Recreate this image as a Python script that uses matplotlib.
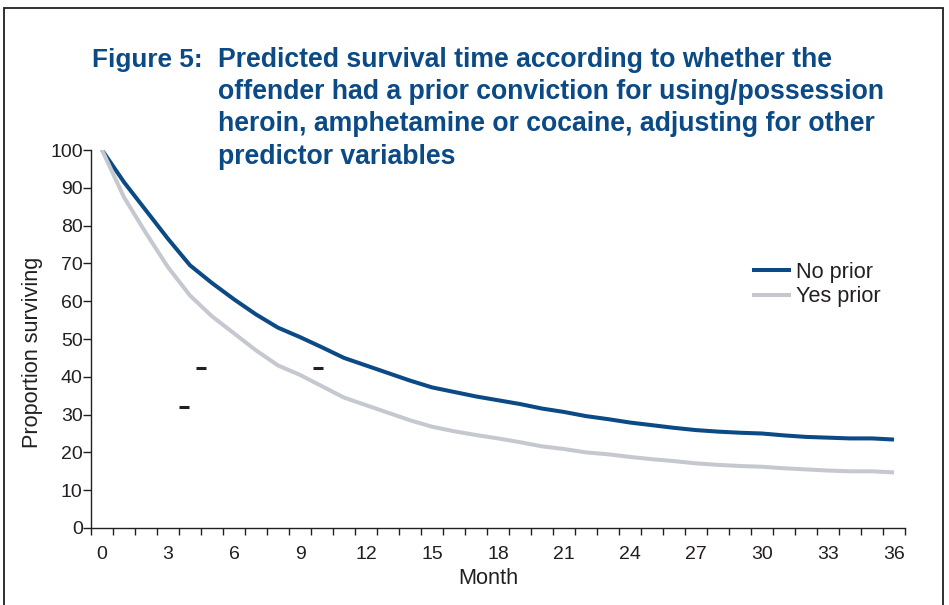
import matplotlib
matplotlib.use("Agg")
import matplotlib.pyplot as plt
from matplotlib.patches import Rectangle

plt.rcParams['font.family'] = ['Liberation Sans', 'DejaVu Sans']

months = list(range(0, 37))
no_prior = [100, 91.5, 84, 76.5, 69.5, 64.8, 60.5, 56.5, 53, 50.5, 47.8, 45, 43, 41, 39,
            37.2, 36, 34.8, 33.8, 32.8, 31.6, 30.7, 29.6, 28.8, 27.9, 27.2, 26.5, 25.9,
            25.5, 25.2, 25.0, 24.5, 24.1, 23.9, 23.7, 23.7, 23.4]
yes_prior = [100, 87.5, 78, 69, 61.5, 56, 51.5, 47, 43, 40.5, 37.5, 34.5, 32.5, 30.5, 28.5,
             26.8, 25.6, 24.6, 23.7, 22.7, 21.6, 20.9, 20.0, 19.5, 18.8, 18.2, 17.7, 17.1,
             16.7, 16.4, 16.2, 15.8, 15.5, 15.2, 15.0, 15.0, 14.7]
series_labels = ["No prior", "Yes prior"]
x_tick_labels = [str(m) for m in range(0, 37, 3)]
y_ticks = list(range(0, 101, 10))
mark_x = [4.5, 9.83, 3.73]
mark_y = [42.3, 42.3, 31.9]

title_lead = "Figure 5:"
title_lines = ["Predicted survival time according to whether the",
               "offender had a prior conviction for using/possession",
               "heroin, amphetamine or cocaine, adjusting for other",
               "predictor variables"]

NAVY = "#0b4a85"
GREY = "#c5c8cf"
INK = "#231f20"

W, H = 949, 605
fig = plt.figure(figsize=(W / 100, H / 100), dpi=100)

def fx(px):
    return px / W

def fy(py):
    return 1 - py / H

ax = fig.add_axes([fx(91), fy(528), fx(905) - fx(91), fy(150) - fy(528)])
ax.plot(months, no_prior, color=NAVY, lw=2.9, label=series_labels[0], solid_capstyle='butt')
ax.plot(months, yes_prior, color=GREY, lw=2.9, label=series_labels[1], solid_capstyle='butt')
ax.plot(mark_x, mark_y, ls='none', marker='_', color=INK, ms=7.5, mew=2.2)

ax.set_xlim(-0.5, 36.5)
ax.set_ylim(0, 100)
ax.set_xticks(range(0, 37, 3))
ax.set_xticklabels(x_tick_labels)
ax.set_xticks([m - 0.5 for m in range(0, 38)], minor=True)
ax.tick_params(axis='x', which='major', length=0, pad=13, labelsize=14, colors=INK)
ax.tick_params(axis='x', which='minor', length=5, width=1.0, direction='out', color=INK)
ax.set_yticks(y_ticks)
ax.tick_params(axis='y', which='major', length=5.5, width=1.0, direction='out', pad=0.5,
               labelsize=14, colors=INK)
for s in ['top', 'right']:
    ax.spines[s].set_visible(False)
for s in ['left', 'bottom']:
    ax.spines[s].set_color(INK)
    ax.spines[s].set_linewidth(1.0)

fig.text(fx(488), fy(579), "Month", ha='center', va='center', fontsize=15.7, color=INK)
fig.text(fx(33), fy(352), "Proportion surviving", ha='center', va='center', rotation=90,
         fontsize=15.6, color=INK)

leg = fig.legend(loc='upper left', bbox_to_anchor=(fx(752), fy(262)), frameon=False,
                 fontsize=15.6, handlelength=1.8, handletextpad=0.25, labelspacing=0.15,
                 borderaxespad=0, borderpad=0)
for t in leg.get_texts():
    t.set_color(INK)

fig.text(fx(92), fy(66.7), title_lead, ha='left', va='baseline', fontsize=18.8,
         fontweight='bold', color=NAVY)
for i, line in enumerate(title_lines):
    fig.text(fx(218), fy(66.7 + 32.3 * i), line, ha='left', va='baseline', fontsize=19.2,
             fontweight='bold', color=NAVY)

fig.patches.append(Rectangle((fx(4), -0.05), fx(943) - fx(4), fy(8) + 0.05,
                             transform=fig.transFigure, fill=False, edgecolor=INK,
                             linewidth=1.3))

fig.savefig("out.png", dpi=100)
